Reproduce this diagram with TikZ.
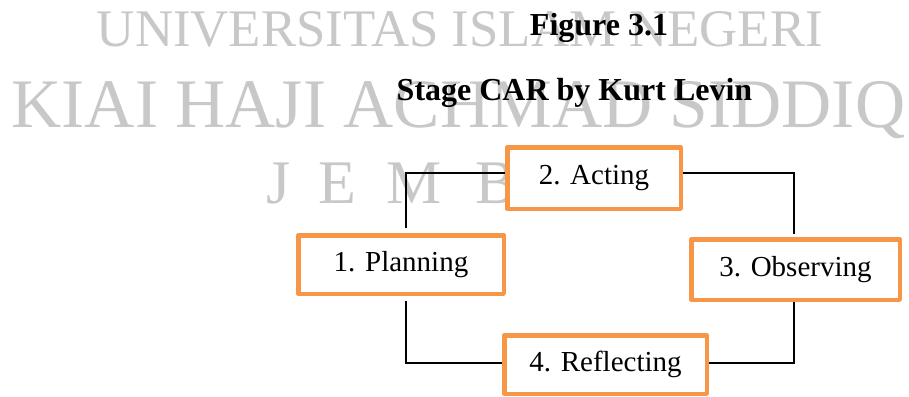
\documentclass[tikz,border=0pt]{standalone}
\usepackage{fontspec}
\setmainfont{Liberation Serif}
\definecolor{boxorange}{HTML}{F79646}
\definecolor{wmgray}{RGB}{200,200,200}
\begin{document}
\begin{tikzpicture}[x=1pt,y=-1pt,
  wm/.style={text=wmgray, inner sep=0pt, anchor=base},
  title/.style={inner sep=0pt, anchor=base, font=\bfseries\fontsize{32}{38}\selectfont},
  stagebox/.style={draw=boxorange, line width=4.5pt, fill=white, line join=round,
    inner sep=0pt, font=\fontsize{29}{34}\selectfont},
  link/.style={draw=black, line width=1.6pt}
]
\fill[white] (0,0) rectangle (909,396);
\useasboundingbox (0,0) rectangle (909,396);

% watermark
\node[wm, font=\fontsize{52.8}{60}\selectfont] (wm1) at (460,47) {UNIVERSITAS ISLAM NEGERI};
\node[wm, font=\fontsize{69.5}{80}\selectfont] (wm2) at (458.5,127) {KIAI HAJI ACHMAD SIDDIQ};
\node[wm, anchor=base west, font=\fontsize{62}{70}\selectfont] (wmj) at (266,203) {J};
\node[wm, anchor=base west, font=\fontsize{62}{70}\selectfont] (wme) at (318,203) {E};
\node[wm, anchor=base west, font=\fontsize{62}{70}\selectfont] (wmm) at (386,203) {M};
\node[wm, anchor=base west, font=\fontsize{62}{70}\selectfont] (wmb) at (475,203) {B};

% titles
\node[title] (t1) at (599,36) {Figure 3.1};
\node[title] (t2) at (574.5,100) {Stage CAR by Kurt Levin};

% boxes
\node[stagebox, minimum width=205.5pt, minimum height=58.5pt] (plan) at (401,264.5) {1. Planning};
\node[stagebox, minimum width=173.5pt, minimum height=61.5pt] (act) at (594,178) {2. Acting};
\node[stagebox, minimum width=208.5pt, minimum height=60.5pt] (obs) at (795.5,269.5) {3. Observing};
\node[stagebox, minimum width=202.5pt, minimum height=58.5pt] (refl) at (605.5,364.5) {4. Reflecting};

% connectors
\draw[link, shorten <=5pt] ([xshift=5pt]plan.north) |- ([yshift=5pt]act.west);
\draw[link, shorten >=3pt] ([yshift=5pt]act.east) -| ([xshift=-1.5pt]obs.north);
\draw[link] ([xshift=-1.5pt]obs.south) |- ([yshift=1.5pt]refl.east);
\draw[link, shorten >=5pt] ([yshift=1.5pt]refl.west) -| ([xshift=5pt]plan.south);
\end{tikzpicture}
\end{document}
